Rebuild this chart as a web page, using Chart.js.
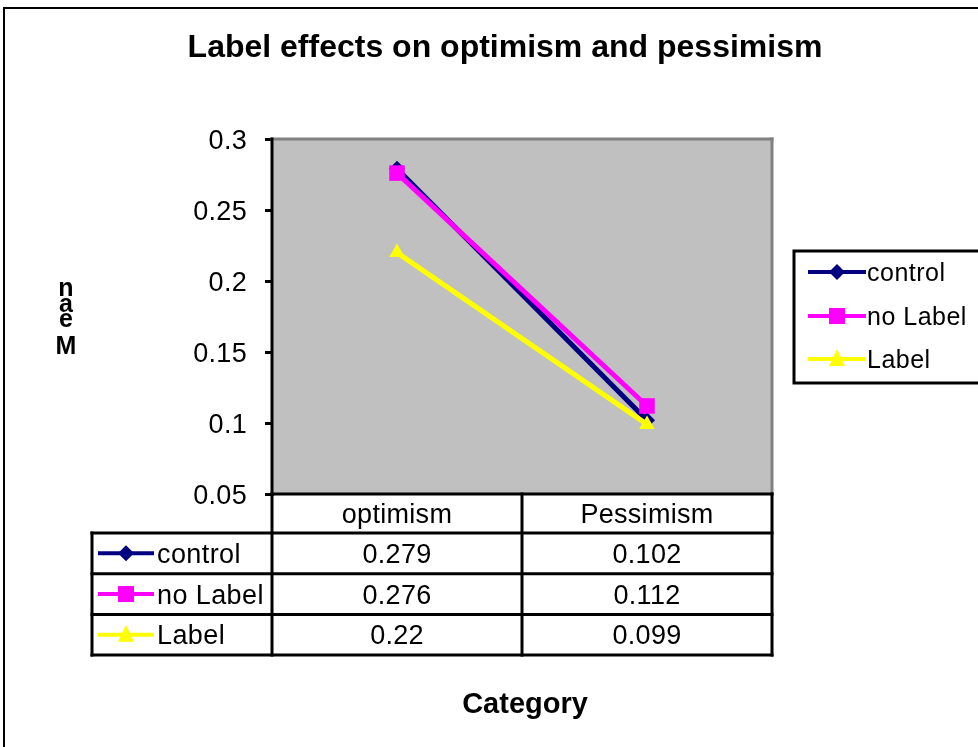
<!DOCTYPE html>
<html><head><meta charset="utf-8">
<script src="https://cdn.jsdelivr.net/npm/chart.js@4/dist/chart.umd.min.js"></script>
<style>html,body{margin:0;padding:0;background:#fff;overflow:hidden}</style>
</head><body>
<canvas id="c" width="978" height="747"></canvas>
<script>
const categories = ['optimism', 'Pessimism'];
const seriesNames = ['control', 'no Label', 'Label'];
const controlValues = [0.279, 0.102];
const noLabelValues = [0.276, 0.112];
const labelValues = [0.22, 0.099];
const yTicks = [0.05, 0.1, 0.15, 0.2, 0.25, 0.3];
const yTickLabels = ['0.05', '0.1', '0.15', '0.2', '0.25', '0.3'];
const chartTitle = 'Label effects on optimism and pessimism';
const xTitle = 'Category';
const yTitle = 'Mean';

const colors = ['#000080', '#FF00FF', '#FFFF00'];
const styles = ['rectRot', 'rect', 'triangle'];
const radii = [8, 11, 9];
const seriesValues = [controlValues, noLabelValues, labelValues];
const FONT = '"Liberation Sans", Arial, sans-serif';

// draws text whose visual cap-centre is at y
function txt(ctx, t, x, y, size, bold, align, spacing) {
  ctx.save();
  ctx.font = (bold ? 'bold ' : '') + size + 'px ' + FONT;
  if ('letterSpacing' in ctx) ctx.letterSpacing = (spacing || 0) + 'px';
  ctx.fillStyle = '#000';
  ctx.textAlign = align;
  ctx.textBaseline = 'alphabetic';
  ctx.fillText(t, x, y + 0.36 * size);
  ctx.restore();
}
function line(ctx, x1, y1, x2, y2, w, c) {
  ctx.save();
  ctx.beginPath();
  ctx.moveTo(x1, y1); ctx.lineTo(x2, y2);
  ctx.lineWidth = w; ctx.strokeStyle = c; ctx.lineCap = 'square';
  ctx.stroke();
  ctx.restore();
}
function marker(ctx, i, x, y) {
  ctx.save();
  ctx.fillStyle = colors[i];
  ctx.beginPath();
  if (i === 0) {
    const r = 8;
    ctx.moveTo(x, y - r); ctx.lineTo(x + r, y); ctx.lineTo(x, y + r); ctx.lineTo(x - r, y); ctx.closePath();
  } else if (i === 1) {
    ctx.rect(x - 8, y - 8, 16, 16);
  } else {
    ctx.moveTo(x, y - 10); ctx.lineTo(x + 8, y + 7); ctx.lineTo(x - 8, y + 7); ctx.closePath();
  }
  ctx.fill();
  ctx.restore();
}
function legendEntry(ctx, i, x1, x2, y) {
  line(ctx, x1, y, x2, y, 4, colors[i]);
  marker(ctx, i, (x1 + x2) / 2, y);
}

const decor = {
  id: 'decor',
  beforeDatasetsDraw(chart) {
    const ctx = chart.ctx, a = chart.chartArea;
    ctx.save();
    ctx.fillStyle = '#C0C0C0';
    ctx.fillRect(a.left, a.top, a.right - a.left, a.bottom - a.top);
    ctx.restore();
    line(ctx, a.left, a.top, a.right, a.top, 3, '#808080');
    line(ctx, a.right, a.top, a.right, a.bottom, 3, '#808080');
    line(ctx, a.left, a.top, a.left, a.bottom, 3, '#000');
  },
  afterDraw(chart) {
    const ctx = chart.ctx, a = chart.chartArea;
    const xs = chart.scales.x, ys = chart.scales.y;
    // outer frame
    line(ctx, 4, 8, 990, 8, 2, '#000');
    line(ctx, 4, 8, 4, 760, 2, '#000');
    // title
    txt(ctx, chartTitle, 505, 45, 32, true, 'center');
    // y title stacked letters
    const letters = yTitle.split('').reverse();
    const ly = [287, 303, 318, 345];
    letters.forEach((ch, k) => txt(ctx, ch, 66, ly[k], 25, true, 'center'));
    // y tick labels
    yTicks.forEach((v, k) => {
      txt(ctx, yTickLabels[k], a.left - 25, ys.getPixelForValue(v), 27, false, 'right', 0.3);
    });
    // data table
    const top = a.bottom, headerH = 39, rowH = 40.7, legL = 92;
    const mid = (xs.getPixelForValue(0) + xs.getPixelForValue(1)) / 2;
    const bottom = top + headerH + rowH * seriesNames.length;
    line(ctx, a.left, top, a.right, top, 3, '#000');
    [a.left, mid, a.right].forEach(x => line(ctx, x, top, x, bottom, 3, '#000'));
    line(ctx, legL, top + headerH, legL, bottom, 3, '#000');
    for (let r = 0; r <= seriesNames.length; r++) {
      const y = top + headerH + r * rowH;
      line(ctx, legL, y, a.right, y, 3, '#000');
    }
    categories.forEach((c, k) => txt(ctx, c, xs.getPixelForValue(k), top + headerH / 2, 27, false, 'center', 0.3));
    seriesNames.forEach((n, r) => {
      const cy = top + headerH + r * rowH + rowH / 2;
      legendEntry(ctx, r, 100, 152, cy);
      txt(ctx, n, 157, cy, 27, false, 'left', 0.4);
      seriesValues[r].forEach((v, k) => txt(ctx, String(v), xs.getPixelForValue(k), cy, 27, false, 'center', 0.3));
    });
    // x title
    txt(ctx, xTitle, 525, 703, 29, true, 'center');
    // legend box
    ctx.save();
    ctx.lineWidth = 3; ctx.strokeStyle = '#000';
    ctx.strokeRect(794, 251, 200, 132);
    ctx.restore();
    const legY = [272, 316, 359];
    seriesNames.forEach((n, r) => {
      legendEntry(ctx, r, 810, 864, legY[r]);
      txt(ctx, n, 867, legY[r], 25, false, 'left', 0.5);
    });
  }
};

new Chart(document.getElementById('c'), {
  type: 'line',
  data: {
    labels: categories,
    datasets: seriesNames.map((n, i) => ({
      label: n,
      data: seriesValues[i],
      borderColor: colors[i],
      backgroundColor: colors[i],
      pointStyle: styles[i],
      pointRadius: radii[i],
      pointHoverRadius: radii[i],
      pointBorderWidth: 0,
      borderWidth: 5,
      tension: 0,
      fill: false,
      order: 3 - i
    }))
  },
  options: {
    responsive: false,
    devicePixelRatio: 1,
    animation: false,
    events: [],
    layout: { padding: { left: 0, top: 139, right: 206, bottom: 253 } },
    plugins: { legend: { display: false }, tooltip: { enabled: false }, title: { display: false } },
    scales: {
      x: {
        type: 'category', offset: true,
        ticks: { display: false },
        grid: { display: false },
        border: { display: false },
        afterFit: s => { s.height = 0; }
      },
      y: {
        min: 0.05, max: 0.3,
        afterBuildTicks: s => { s.ticks = yTicks.map(v => ({ value: v })); },
        afterFit: s => { s.width = 272; },
        ticks: { display: false },
        grid: { drawOnChartArea: false, drawTicks: true, tickLength: 7, color: '#000', lineWidth: 3 },
        border: { display: true, color: '#000', width: 3 }
      }
    }
  },
  plugins: [decor]
});
</script>
</body></html>
